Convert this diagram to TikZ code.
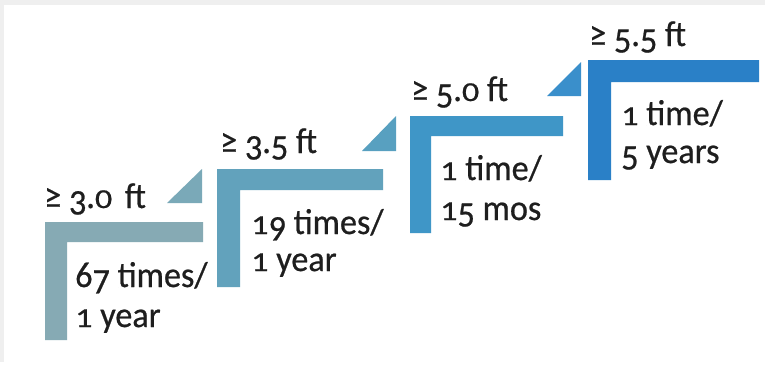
\documentclass[tikz,border=0pt]{standalone}
\usepackage{fontspec}
\setmainfont{Carlito}[FakeStretch=0.95,FakeBold=0.6]
\definecolor{cA}{HTML}{86AAB4}
\definecolor{cB}{HTML}{62A2BC}
\definecolor{cC}{HTML}{3F96C7}
\definecolor{cD}{HTML}{2A80C7}
\definecolor{tA}{HTML}{7AA9B8}
\definecolor{tB}{HTML}{58A0C0}
\definecolor{tC}{HTML}{3A8FCB}
\definecolor{txt}{HTML}{1E1E1E}
\definecolor{frame}{HTML}{EFEFEF}
% old-style figure imitation
\newcommand{\odn}[1]{\raisebox{-0.18em}{#1}}
\newcommand{\osm}[1]{\scalebox{1}[0.76]{#1}}
\begin{document}
\begin{tikzpicture}[x=1pt,y=-1pt,
  headtext/.style={anchor=base west,inner sep=0pt,text=txt,font=\fontsize{36}{38}\selectfont},
  bodytext/.style={anchor=base west,inner sep=0pt,text=txt,font=\fontsize{36}{38}\selectfont}]
\useasboundingbox (0,0) rectangle (765,373);
\fill[white] (0,0) rectangle (765,373);
\fill[frame] (0,0) rectangle (765,5);
\fill[frame] (0,0) rectangle (3.5,362);
% step 1
\fill[cA] (45,222) -- (203,222) -- (203,242) -- (67,242) -- (67,340) -- (45,340) -- cycle;
\fill[tA] (167,203) -- (202,169) -- (202,203) -- cycle;
% step 2
\fill[cB] (217,169) -- (383,169) -- (383,190) -- (240,190) -- (240,287) -- (217,287) -- cycle;
\fill[tB] (362,151) -- (396,116) -- (396,151) -- cycle;
% step 3
\fill[cC] (410,116) -- (563,116) -- (563,136) -- (431,136) -- (431,233) -- (410,233) -- cycle;
\fill[tC] (547,96) -- (581,62) -- (581,96) -- cycle;
% step 4
\fill[cD] (588,60) -- (759,60) -- (759,82) -- (611,82) -- (611,180) -- (588,180) -- cycle;
% texts
\node[headtext] (h1) at (44,208) {≥ \odn{3}.\osm{0}\hspace{0.35em}ft};
\node[bodytext] (a1) at (75,287) {6\odn{7} times/};
\node[bodytext] (b1) at (75,327) {\osm{1} year};
\node[headtext] (h2) at (220,153) {≥ \odn{3}.\odn{5} ft};
\node[bodytext] (a2) at (251,234) {\osm{1}\odn{9} times/};
\node[bodytext] (b2) at (251,271) {\osm{1} year};
\node[headtext] (h3) at (411,101) {≥ \odn{5}.\osm{0} ft};
\node[bodytext] (a3) at (440,180) {\osm{1} time/};
\node[bodytext] (b3) at (440,220) {\osm{1}\odn{5} mos};
\node[headtext] (h4) at (589,46) {≥ \odn{5}.\odn{5} ft};
\node[bodytext] (a4) at (621,125) {\osm{1} time/};
\node[bodytext] (b4) at (621,163) {\odn{5} years};
\end{tikzpicture}
\end{document}
